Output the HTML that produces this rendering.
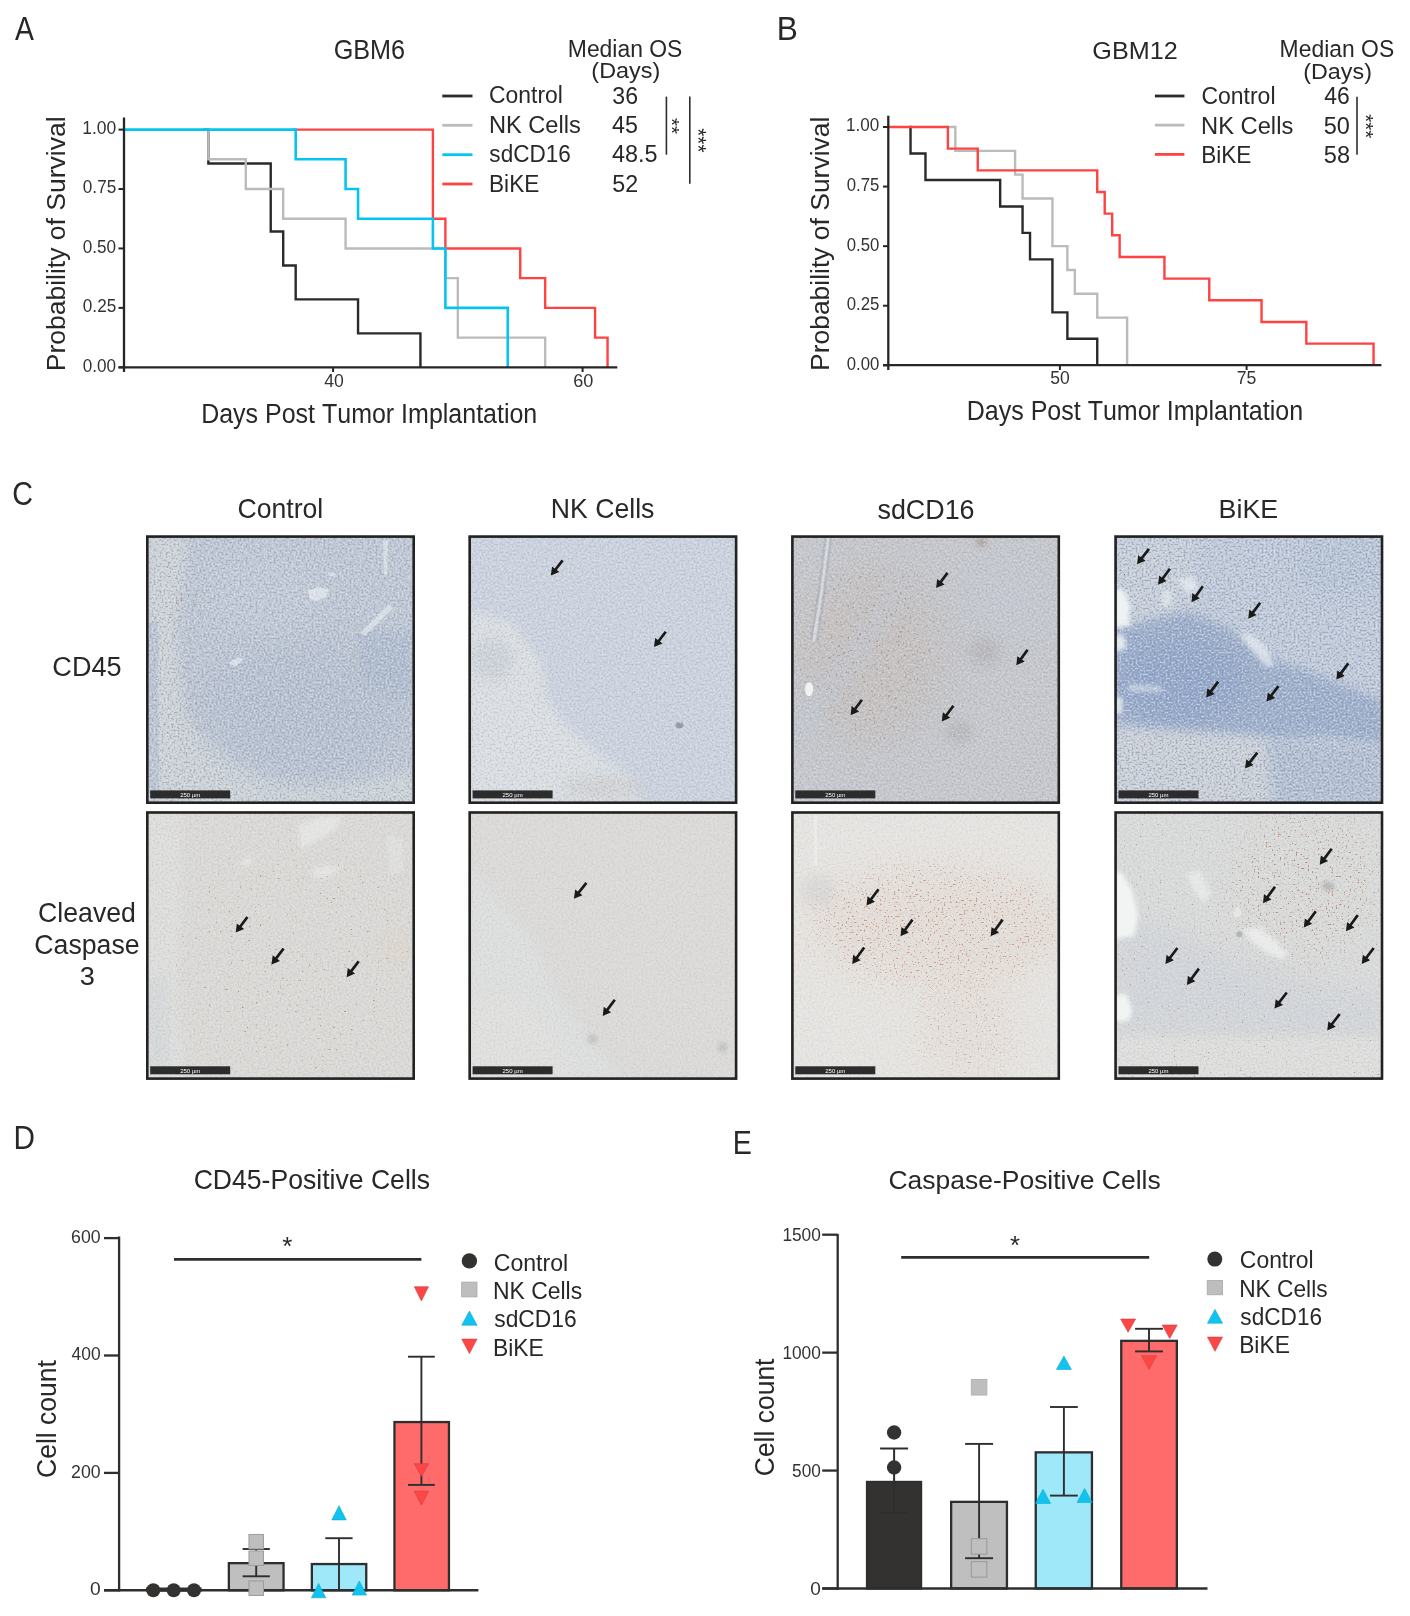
<!DOCTYPE html>
<html><head><meta charset="utf-8"><title>Figure</title>
<style>
html,body{margin:0;padding:0;background:#fff;width:1410px;height:1616px;overflow:hidden}
svg{display:block;will-change:transform}
text{font-family:"Liberation Sans",sans-serif;font-kerning:none;font-feature-settings:"kern" 0}
</style></head><body>
<svg width="1410" height="1616" viewBox="0 0 1410 1616">
<rect width="1410" height="1616" fill="#fff"/>
<defs><filter id="b2" x="-50%" y="-50%" width="200%" height="200%"><feGaussianBlur stdDeviation="2"/></filter><filter id="b4" x="-50%" y="-50%" width="200%" height="200%"><feGaussianBlur stdDeviation="4"/></filter><filter id="b5" x="-50%" y="-50%" width="200%" height="200%"><feGaussianBlur stdDeviation="5"/></filter><filter id="b6" x="-50%" y="-50%" width="200%" height="200%"><feGaussianBlur stdDeviation="6"/></filter><filter id="b8" x="-50%" y="-50%" width="200%" height="200%"><feGaussianBlur stdDeviation="8"/></filter><filter id="b10" x="-50%" y="-50%" width="200%" height="200%"><feGaussianBlur stdDeviation="10"/></filter><filter id="b12" x="-50%" y="-50%" width="200%" height="200%"><feGaussianBlur stdDeviation="12"/></filter><filter id="b14" x="-50%" y="-50%" width="200%" height="200%"><feGaussianBlur stdDeviation="14"/></filter><filter id="b15" x="-50%" y="-50%" width="200%" height="200%"><feGaussianBlur stdDeviation="15"/></filter><filter id="b20" x="-50%" y="-50%" width="200%" height="200%"><feGaussianBlur stdDeviation="20"/></filter><filter id="b25" x="-50%" y="-50%" width="200%" height="200%"><feGaussianBlur stdDeviation="25"/></filter><filter id="b30" x="-50%" y="-50%" width="200%" height="200%"><feGaussianBlur stdDeviation="30"/></filter><filter id="s000d" x="0" y="0" width="1" height="1" color-interpolation-filters="sRGB"><feTurbulence type="fractalNoise" baseFrequency="0.5" numOctaves="1" seed="3"/><feColorMatrix type="matrix" values="0 0 0 0 0.541 0 0 0 0 0.588 0 0 0 0 0.690 5.00 0 0 0 -2.60"/><feGaussianBlur stdDeviation="0.7"/></filter><filter id="s000l" x="0" y="0" width="1" height="1" color-interpolation-filters="sRGB"><feTurbulence type="fractalNoise" baseFrequency="0.5" numOctaves="1" seed="3"/><feColorMatrix type="matrix" values="0 0 0 0 0.890 0 0 0 0 0.906 0 0 0 0 0.918 -5.00 0 0 0 2.40"/><feGaussianBlur stdDeviation="0.7"/></filter><filter id="d000" x="0" y="0" width="1" height="1" color-interpolation-filters="sRGB"><feTurbulence type="fractalNoise" baseFrequency="0.42" numOctaves="1" seed="31"/><feColorMatrix type="matrix" values="0 0 0 0 0.647 0 0 0 0 0.541 0 0 0 0 0.471 14.00 0 0 0 -9.38"/><feGaussianBlur stdDeviation="0.35"/></filter><mask id="md000" maskUnits="userSpaceOnUse" x="146" y="535.3" width="269" height="268.7"><ellipse cx="176" cy="669.8" rx="30" ry="134.5" fill="#fff" filter="url(#b8)"/></mask><filter id="s010d" x="0" y="0" width="1" height="1" color-interpolation-filters="sRGB"><feTurbulence type="fractalNoise" baseFrequency="0.5" numOctaves="1" seed="5"/><feColorMatrix type="matrix" values="0 0 0 0 0.635 0 0 0 0 0.671 0 0 0 0 0.761 5.00 0 0 0 -2.60"/><feGaussianBlur stdDeviation="0.7"/></filter><filter id="s010l" x="0" y="0" width="1" height="1" color-interpolation-filters="sRGB"><feTurbulence type="fractalNoise" baseFrequency="0.5" numOctaves="1" seed="5"/><feColorMatrix type="matrix" values="0 0 0 0 0.902 0 0 0 0 0.914 0 0 0 0 0.925 -5.00 0 0 0 2.40"/><feGaussianBlur stdDeviation="0.7"/></filter><filter id="s020d" x="0" y="0" width="1" height="1" color-interpolation-filters="sRGB"><feTurbulence type="fractalNoise" baseFrequency="0.5" numOctaves="1" seed="7"/><feColorMatrix type="matrix" values="0 0 0 0 0.620 0 0 0 0 0.639 0 0 0 0 0.698 5.00 0 0 0 -2.60"/><feGaussianBlur stdDeviation="0.7"/></filter><filter id="s020l" x="0" y="0" width="1" height="1" color-interpolation-filters="sRGB"><feTurbulence type="fractalNoise" baseFrequency="0.5" numOctaves="1" seed="7"/><feColorMatrix type="matrix" values="0 0 0 0 0.875 0 0 0 0 0.882 0 0 0 0 0.894 -5.00 0 0 0 2.40"/><feGaussianBlur stdDeviation="0.7"/></filter><filter id="d020" x="0" y="0" width="1" height="1" color-interpolation-filters="sRGB"><feTurbulence type="fractalNoise" baseFrequency="0.42" numOctaves="1" seed="37"/><feColorMatrix type="matrix" values="0 0 0 0 0.659 0 0 0 0 0.541 0 0 0 0 0.471 14.00 0 0 0 -9.10"/><feGaussianBlur stdDeviation="0.35"/></filter><mask id="md020" maskUnits="userSpaceOnUse" x="791.1" y="535.3" width="269" height="268.7"><ellipse cx="871.1" cy="650.3" rx="70" ry="95" fill="#fff" filter="url(#b15)"/></mask><filter id="s030d" x="0" y="0" width="1" height="1" color-interpolation-filters="sRGB"><feTurbulence type="fractalNoise" baseFrequency="0.5" numOctaves="1" seed="11"/><feColorMatrix type="matrix" values="0 0 0 0 0.490 0 0 0 0 0.553 0 0 0 0 0.690 5.00 0 0 0 -2.60"/><feGaussianBlur stdDeviation="0.7"/></filter><filter id="s030l" x="0" y="0" width="1" height="1" color-interpolation-filters="sRGB"><feTurbulence type="fractalNoise" baseFrequency="0.5" numOctaves="1" seed="11"/><feColorMatrix type="matrix" values="0 0 0 0 0.886 0 0 0 0 0.906 0 0 0 0 0.925 -5.00 0 0 0 2.40"/><feGaussianBlur stdDeviation="0.7"/></filter><filter id="d030" x="0" y="0" width="1" height="1" color-interpolation-filters="sRGB"><feTurbulence type="fractalNoise" baseFrequency="0.42" numOctaves="1" seed="41"/><feColorMatrix type="matrix" values="0 0 0 0 0.549 0 0 0 0 0.290 0 0 0 0 0.220 14.00 0 0 0 -10.22"/><feGaussianBlur stdDeviation="0.35"/></filter><mask id="md030" maskUnits="userSpaceOnUse" x="1114.3" y="535.3" width="269" height="268.7"><ellipse cx="1154.3" cy="580.3" rx="40" ry="35" fill="#fff" filter="url(#b6)"/></mask><filter id="s100d" x="0" y="0" width="1" height="1" color-interpolation-filters="sRGB"><feTurbulence type="fractalNoise" baseFrequency="0.5" numOctaves="1" seed="13"/><feColorMatrix type="matrix" values="0 0 0 0 0.733 0 0 0 0 0.725 0 0 0 0 0.714 5.00 0 0 0 -2.60"/><feGaussianBlur stdDeviation="0.7"/></filter><filter id="s100l" x="0" y="0" width="1" height="1" color-interpolation-filters="sRGB"><feTurbulence type="fractalNoise" baseFrequency="0.5" numOctaves="1" seed="13"/><feColorMatrix type="matrix" values="0 0 0 0 0.922 0 0 0 0 0.925 0 0 0 0 0.918 -5.00 0 0 0 2.40"/><feGaussianBlur stdDeviation="0.7"/></filter><filter id="d100" x="0" y="0" width="1" height="1" color-interpolation-filters="sRGB"><feTurbulence type="fractalNoise" baseFrequency="0.45" numOctaves="1" seed="43"/><feColorMatrix type="matrix" values="0 0 0 0 0.722 0 0 0 0 0.439 0 0 0 0 0.310 14.00 0 0 0 -9.94"/><feGaussianBlur stdDeviation="0.35"/></filter><mask id="md100" maskUnits="userSpaceOnUse" x="146" y="811.2" width="269" height="268.7"><ellipse cx="295.5" cy="955.7" rx="119.5" ry="124.5" fill="#fff" filter="url(#b20)"/></mask><filter id="s110d" x="0" y="0" width="1" height="1" color-interpolation-filters="sRGB"><feTurbulence type="fractalNoise" baseFrequency="0.5" numOctaves="1" seed="17"/><feColorMatrix type="matrix" values="0 0 0 0 0.753 0 0 0 0 0.753 0 0 0 0 0.757 5.00 0 0 0 -2.60"/><feGaussianBlur stdDeviation="0.7"/></filter><filter id="s110l" x="0" y="0" width="1" height="1" color-interpolation-filters="sRGB"><feTurbulence type="fractalNoise" baseFrequency="0.5" numOctaves="1" seed="17"/><feColorMatrix type="matrix" values="0 0 0 0 0.910 0 0 0 0 0.910 0 0 0 0 0.902 -5.00 0 0 0 2.40"/><feGaussianBlur stdDeviation="0.7"/></filter><filter id="d110" x="0" y="0" width="1" height="1" color-interpolation-filters="sRGB"><feTurbulence type="fractalNoise" baseFrequency="0.42" numOctaves="1" seed="47"/><feColorMatrix type="matrix" values="0 0 0 0 0.753 0 0 0 0 0.439 0 0 0 0 0.314 14.00 0 0 0 -11.34"/><feGaussianBlur stdDeviation="0.35"/></filter><filter id="s120d" x="0" y="0" width="1" height="1" color-interpolation-filters="sRGB"><feTurbulence type="fractalNoise" baseFrequency="0.5" numOctaves="1" seed="19"/><feColorMatrix type="matrix" values="0 0 0 0 0.784 0 0 0 0 0.745 0 0 0 0 0.714 5.00 0 0 0 -2.60"/><feGaussianBlur stdDeviation="0.7"/></filter><filter id="s120l" x="0" y="0" width="1" height="1" color-interpolation-filters="sRGB"><feTurbulence type="fractalNoise" baseFrequency="0.5" numOctaves="1" seed="19"/><feColorMatrix type="matrix" values="0 0 0 0 0.933 0 0 0 0 0.929 0 0 0 0 0.922 -5.00 0 0 0 2.40"/><feGaussianBlur stdDeviation="0.7"/></filter><filter id="d120" x="0" y="0" width="1" height="1" color-interpolation-filters="sRGB"><feTurbulence type="fractalNoise" baseFrequency="0.5" numOctaves="1" seed="53"/><feColorMatrix type="matrix" values="0 0 0 0 0.753 0 0 0 0 0.478 0 0 0 0 0.345 14.00 0 0 0 -9.24"/><feGaussianBlur stdDeviation="0.35"/></filter><mask id="md120" maskUnits="userSpaceOnUse" x="791.1" y="811.2" width="269" height="268.7"><ellipse cx="935.6" cy="926.2" rx="124.5" ry="65" fill="#fff" filter="url(#b15)"/></mask><filter id="d121" x="0" y="0" width="1" height="1" color-interpolation-filters="sRGB"><feTurbulence type="fractalNoise" baseFrequency="0.5" numOctaves="1" seed="59"/><feColorMatrix type="matrix" values="0 0 0 0 0.753 0 0 0 0 0.478 0 0 0 0 0.345 14.00 0 0 0 -9.52"/><feGaussianBlur stdDeviation="0.35"/></filter><mask id="md121" maskUnits="userSpaceOnUse" x="791.1" y="811.2" width="269" height="268.7"><ellipse cx="966.1" cy="1030.7" rx="55" ry="49.5" fill="#fff" filter="url(#b15)"/></mask><filter id="s130d" x="0" y="0" width="1" height="1" color-interpolation-filters="sRGB"><feTurbulence type="fractalNoise" baseFrequency="0.5" numOctaves="1" seed="23"/><feColorMatrix type="matrix" values="0 0 0 0 0.718 0 0 0 0 0.733 0 0 0 0 0.749 5.00 0 0 0 -2.60"/><feGaussianBlur stdDeviation="0.7"/></filter><filter id="s130l" x="0" y="0" width="1" height="1" color-interpolation-filters="sRGB"><feTurbulence type="fractalNoise" baseFrequency="0.5" numOctaves="1" seed="23"/><feColorMatrix type="matrix" values="0 0 0 0 0.922 0 0 0 0 0.925 0 0 0 0 0.922 -5.00 0 0 0 2.40"/><feGaussianBlur stdDeviation="0.7"/></filter><filter id="d130" x="0" y="0" width="1" height="1" color-interpolation-filters="sRGB"><feTurbulence type="fractalNoise" baseFrequency="0.5" numOctaves="1" seed="61"/><feColorMatrix type="matrix" values="0 0 0 0 0.722 0 0 0 0 0.439 0 0 0 0 0.298 14.00 0 0 0 -9.38"/><feGaussianBlur stdDeviation="0.35"/></filter><mask id="md130" maskUnits="userSpaceOnUse" x="1114.3" y="811.2" width="269" height="268.7"><ellipse cx="1303.8" cy="886.2" rx="79.5" ry="75" fill="#fff" filter="url(#b15)"/></mask><filter id="d131" x="0" y="0" width="1" height="1" color-interpolation-filters="sRGB"><feTurbulence type="fractalNoise" baseFrequency="0.5" numOctaves="1" seed="67"/><feColorMatrix type="matrix" values="0 0 0 0 0.722 0 0 0 0 0.439 0 0 0 0 0.298 14.00 0 0 0 -10.08"/><feGaussianBlur stdDeviation="0.35"/></filter></defs>
<text transform="translate(15.04 40.4) scale(0.8593 1)" font-size="32.99" fill="#282828">A</text>
<text transform="translate(776.81 40) scale(0.9739 1)" font-size="32.41" fill="#282828">B</text>
<path d="M203.36 129.6 H208.35 V163.56 H270.73 V231.47 H283.2 V265.43 H295.68 V299.39 H358.05 V333.34 H420.43 V367.3" stroke="#2a2a2a" stroke-width="2.4" fill="none"/>
<path d="M203.36 129.6 H208.35 V159.31 H245.78 V189.03 H283.2 V218.74 H345.58 V248.45 H445.38 V278.16 H457.85 V337.59 H545.17 V367.3" stroke="#bbbbbb" stroke-width="2.4" fill="none"/>
<path d="M293.18 129.6 H432.9 V218.74 H445.38 V248.45 H520.23 V278.16 H545.17 V307.88 H595.08 V337.59 H607.55 V367.3" stroke="#ff4242" stroke-width="2.4" fill="none"/>
<path d="M124 129.6 H295.68 V159.31 H345.58 V189.03 H358.05 V218.74 H432.9 V248.45 H445.38 V307.88 H507.75 V367.3" stroke="#04c5f1" stroke-width="2.6" fill="none"/>
<line x1="124" y1="117.5" x2="124" y2="372" stroke="#262626" stroke-width="2.3" stroke-linecap="butt"/>
<line x1="118.5" y1="367.3" x2="617.3" y2="367.3" stroke="#262626" stroke-width="2.3" stroke-linecap="butt"/>
<line x1="118.5" y1="367.3" x2="124" y2="367.3" stroke="#262626" stroke-width="2" stroke-linecap="butt"/>
<line x1="118.5" y1="307.88" x2="124" y2="307.88" stroke="#262626" stroke-width="2" stroke-linecap="butt"/>
<line x1="118.5" y1="248.45" x2="124" y2="248.45" stroke="#262626" stroke-width="2" stroke-linecap="butt"/>
<line x1="118.5" y1="189.03" x2="124" y2="189.03" stroke="#262626" stroke-width="2" stroke-linecap="butt"/>
<line x1="118.5" y1="129.6" x2="124" y2="129.6" stroke="#262626" stroke-width="2" stroke-linecap="butt"/>
<line x1="333.1" y1="367.3" x2="333.1" y2="372" stroke="#262626" stroke-width="2" stroke-linecap="butt"/>
<line x1="582.6" y1="367.3" x2="582.6" y2="372" stroke="#262626" stroke-width="2" stroke-linecap="butt"/>
<text transform="translate(82.83 371.7) scale(0.9187 1)" font-size="18.64" fill="#333">0.00</text>
<text transform="translate(82.83 312.27) scale(0.9202 1)" font-size="18.64" fill="#333">0.25</text>
<text transform="translate(82.83 252.85) scale(0.9187 1)" font-size="18.64" fill="#333">0.50</text>
<text transform="translate(82.83 193.43) scale(0.9202 1)" font-size="18.64" fill="#333">0.75</text>
<text transform="translate(82.17 134) scale(0.9374 1)" font-size="18.64" fill="#333">1.00</text>
<text transform="translate(324.2 386.7) scale(0.9307 1)" font-size="18.93" fill="#333">40</text>
<text transform="translate(573.18 386.7) scale(0.9560 1)" font-size="18.93" fill="#333">60</text>
<text transform="translate(65.1 371.28) rotate(-90) scale(1.0023 1)" font-size="26.45" fill="#282828">Probability of Survival</text>
<text transform="translate(201.15 422.5) scale(0.9349 1)" font-size="26.74" fill="#282828">Days Post Tumor Implantation</text>
<text transform="translate(333.63 58.7) scale(0.9230 1)" font-size="27.33" fill="#282828">GBM6</text>
<text transform="translate(567.82 57.3) scale(0.9723 1)" font-size="23.55" fill="#282828">Median OS</text>
<text transform="translate(591.35 78.2) scale(1.0455 1)" font-size="22.38" fill="#282828">(Days)</text>
<line x1="442.3" y1="96" x2="472.5" y2="96" stroke="#2a2a2a" stroke-width="2.8" stroke-linecap="butt"/>
<line x1="442.3" y1="125.3" x2="472.5" y2="125.3" stroke="#bbbbbb" stroke-width="2.8" stroke-linecap="butt"/>
<line x1="442.3" y1="154.7" x2="472.5" y2="154.7" stroke="#04c5f1" stroke-width="2.8" stroke-linecap="butt"/>
<line x1="442.3" y1="184" x2="472.5" y2="184" stroke="#ff4242" stroke-width="2.8" stroke-linecap="butt"/>
<text transform="translate(489.04 103.4) scale(0.9722 1)" font-size="23.55" fill="#282828">Control</text>
<text transform="translate(488.96 132.9) scale(0.9972 1)" font-size="23.69" fill="#282828">NK Cells</text>
<text transform="translate(489.37 162.1) scale(0.9454 1)" font-size="23.84" fill="#282828">sdCD16</text>
<text transform="translate(489.05 191.5) scale(0.9594 1)" font-size="23.55" fill="#282828">BiKE</text>
<text transform="translate(612.32 103.7) scale(0.9811 1)" font-size="23.55" fill="#282828">36</text>
<text transform="translate(612.07 132.9) scale(0.9894 1)" font-size="23.55" fill="#282828">45</text>
<text transform="translate(612.06 162.1) scale(0.9932 1)" font-size="23.55" fill="#282828">48.5</text>
<text transform="translate(612.27 191.7) scale(0.9890 1)" font-size="23.55" fill="#282828">52</text>
<line x1="666.4" y1="96.6" x2="666.4" y2="154.7" stroke="#2e2e2e" stroke-width="1.6" stroke-linecap="butt"/>
<line x1="689.8" y1="96.6" x2="689.8" y2="183.7" stroke="#2e2e2e" stroke-width="1.6" stroke-linecap="butt"/>
<text transform="translate(664.95 117.97) rotate(90) scale(0.9929 1)" font-size="20.64" fill="#282828">**</text>
<text transform="translate(691.05 128.16) rotate(90) scale(0.9741 1)" font-size="21.51" fill="#282828">***</text>
<path d="M946.39 127 H955.35 V150.83 H1015.09 V174.66 H1022.56 V198.49 H1052.43 V246.15 H1067.37 V269.98 H1074.84 V293.81 H1097.24 V317.64 H1127.11 V365.3" stroke="#bbbbbb" stroke-width="2.4" fill="none"/>
<path d="M909.05 127 H910.54 V153.48 H925.48 V179.96 H1000.16 V206.43 H1022.56 V232.91 H1030.03 V259.39 H1052.43 V312.34 H1067.37 V338.82 H1097.24 V365.3" stroke="#2a2a2a" stroke-width="2.4" fill="none"/>
<path d="M888.3 127 H947.88 V148.66 H977.75 V170.33 H1097.24 V191.99 H1104.71 V213.65 H1112.18 V235.32 H1119.64 V256.98 H1164.45 V278.65 H1209.26 V300.31 H1261.54 V321.97 H1306.34 V343.64 H1373.56 V365.3" stroke="#ff4242" stroke-width="2.4" fill="none"/>
<line x1="888.3" y1="115.7" x2="888.3" y2="370" stroke="#262626" stroke-width="2.3" stroke-linecap="butt"/>
<line x1="883" y1="365.2" x2="1381.4" y2="365.2" stroke="#262626" stroke-width="2.3" stroke-linecap="butt"/>
<line x1="883" y1="365.3" x2="888.3" y2="365.3" stroke="#262626" stroke-width="2" stroke-linecap="butt"/>
<line x1="883" y1="305.73" x2="888.3" y2="305.73" stroke="#262626" stroke-width="2" stroke-linecap="butt"/>
<line x1="883" y1="246.15" x2="888.3" y2="246.15" stroke="#262626" stroke-width="2" stroke-linecap="butt"/>
<line x1="883" y1="186.57" x2="888.3" y2="186.57" stroke="#262626" stroke-width="2" stroke-linecap="butt"/>
<line x1="883" y1="127" x2="888.3" y2="127" stroke="#262626" stroke-width="2" stroke-linecap="butt"/>
<line x1="1059.9" y1="365.2" x2="1059.9" y2="370" stroke="#262626" stroke-width="2" stroke-linecap="butt"/>
<line x1="1246.6" y1="365.2" x2="1246.6" y2="370" stroke="#262626" stroke-width="2" stroke-linecap="butt"/>
<text transform="translate(846.75 369.7) scale(0.9195 1)" font-size="18.22" fill="#333">0.00</text>
<text transform="translate(846.74 310.12) scale(0.9210 1)" font-size="18.22" fill="#333">0.25</text>
<text transform="translate(846.75 250.55) scale(0.9195 1)" font-size="18.22" fill="#333">0.50</text>
<text transform="translate(846.74 190.97) scale(0.9210 1)" font-size="18.22" fill="#333">0.75</text>
<text transform="translate(846.1 131.4) scale(0.9382 1)" font-size="18.22" fill="#333">1.00</text>
<text transform="translate(1050.2 383.8) scale(0.9690 1)" font-size="18.08" fill="#333">50</text>
<text transform="translate(1236.69 383.8) scale(0.9785 1)" font-size="18.05" fill="#333">75</text>
<text transform="translate(828.7 370.97) rotate(-90) scale(1.0007 1)" font-size="26.45" fill="#282828">Probability of Survival</text>
<text transform="translate(966.75 419.8) scale(0.9254 1)" font-size="27.03" fill="#282828">Days Post Tumor Implantation</text>
<text transform="translate(1092.33 58.6) scale(1.0199 1)" font-size="24.71" fill="#282828">GBM12</text>
<text transform="translate(1279.62 57.4) scale(0.9853 1)" font-size="23.26" fill="#282828">Median OS</text>
<text transform="translate(1303.25 78.5) scale(1.0423 1)" font-size="22.38" fill="#282828">(Days)</text>
<line x1="1154.9" y1="96" x2="1184.4" y2="96" stroke="#2a2a2a" stroke-width="2.8" stroke-linecap="butt"/>
<line x1="1154.9" y1="125.1" x2="1184.4" y2="125.1" stroke="#bbbbbb" stroke-width="2.8" stroke-linecap="butt"/>
<line x1="1154.9" y1="154.4" x2="1184.4" y2="154.4" stroke="#ff4242" stroke-width="2.8" stroke-linecap="butt"/>
<text transform="translate(1201.43 104.4) scale(0.9703 1)" font-size="23.69" fill="#282828">Control</text>
<text transform="translate(1201.05 133.9) scale(1.0016 1)" font-size="23.69" fill="#282828">NK Cells</text>
<text transform="translate(1201.14 163.3) scale(0.9556 1)" font-size="23.69" fill="#282828">BiKE</text>
<text transform="translate(1324.27 104.4) scale(0.9810 1)" font-size="23.4" fill="#282828">46</text>
<text transform="translate(1323.76 133.9) scale(0.9927 1)" font-size="23.69" fill="#282828">50</text>
<text transform="translate(1323.75 163.3) scale(0.9969 1)" font-size="23.69" fill="#282828">58</text>
<line x1="1357" y1="96.7" x2="1357" y2="154.7" stroke="#2e2e2e" stroke-width="1.6" stroke-linecap="butt"/>
<text transform="translate(1359.39 114.17) rotate(90) scale(1.0455 1)" font-size="19.62" fill="#282828">***</text>
<text transform="translate(12.34 504.5) scale(0.8572 1)" font-size="33.52" fill="#282828">C</text>
<text transform="translate(237.55 518.4) scale(0.9837 1)" font-size="27.03" fill="#282828">Control</text>
<text transform="translate(550.81 518.4) scale(0.9964 1)" font-size="26.74" fill="#282828">NK Cells</text>
<text transform="translate(877.45 518.5) scale(1.0053 1)" font-size="26.74" fill="#282828">sdCD16</text>
<text transform="translate(1218.6 518.2) scale(1.0070 1)" font-size="26.6" fill="#282828">BiKE</text>
<text transform="translate(52.32 676.1) scale(0.9960 1)" font-size="27.22" fill="#282828">CD45</text>
<text transform="translate(38.04 922.3) scale(0.9931 1)" font-size="26.89" fill="#282828">Cleaved</text>
<text transform="translate(34.34 953.6) scale(0.9980 1)" font-size="26.74" fill="#282828">Caspase</text>
<text transform="translate(79.86 985) scale(1.0266 1)" font-size="26.5" fill="#282828">3</text>
<clipPath id="c00"><rect x="146" y="535.3" width="269" height="268.7"/></clipPath>
<g clip-path="url(#c00)">
<rect x="146" y="535.3" width="269" height="268.7" fill="#bdc6d3"/>
<path d="M146 535.3 L188 535.3 L184 585.3 L176 631.3 L180 675.3 L188 711.3 L201 732.3 L241 762.3 L281 782.3 L342 784.3 L415 772.3 L415 804.3 L146 804.3 Z" fill="#cfd4d7" opacity="0.85" filter="url(#b6)"/>
<path d="M146 621.3 L158 621.3 L159 792.3 L146 795.3 Z" fill="#b8c3d1" opacity="0.85" filter="url(#b3)"/>
<ellipse cx="302" cy="710.3" rx="105" ry="70" fill="#b3bdcd" opacity="0.7" filter="url(#b15)"/>
<path d="M358 631.3 L358 671.3 L372 691.3 L415 703.3 L415 631.3 Z" fill="#adb9cc" opacity="0.8" filter="url(#b5)"/>
<ellipse cx="266" cy="595.3" rx="60" ry="40" fill="#c3cbd7" opacity="0.5" filter="url(#b15)"/>
<rect x="146" y="535.3" width="269" height="268.7" filter="url(#s000d)" opacity="0.56"/>
<rect x="146" y="535.3" width="269" height="268.7" filter="url(#s000l)" opacity="0.56"/>
<rect x="146" y="535.3" width="269" height="268.7" filter="url(#d000)" opacity="0.8" mask="url(#md000)"/>
<path d="M308 590.3 L318 587.3 L329 589.3 L326 597.3 L316 601.3 L309 598.3 Z" fill="#eef2f4" opacity="0.6" filter="url(#b1)"/>
<path d="M360 633.3 L365 635.3 L393 608.3 L389 604.3 Z" fill="#eef2f4" opacity="0.55" filter="url(#b1)"/>
<path d="M383 540.3 L388 540.3 L387 575.3 L384 575.3 Z" fill="#eef2f4" opacity="0.5" filter="url(#b1)"/>
<path d="M228 663.3 L238 657.3 L244 659.3 L236 666.3 Z" fill="#eef2f4" opacity="0.6" filter="url(#b1)"/>
<ellipse cx="332" cy="574.3" rx="4" ry="2" fill="#eef2f4" opacity="0.5" filter="url(#b1)"/>
<rect x="146" y="535.3" width="269" height="268.7" fill="#fff" opacity="0.049"/>
<rect x="150.2" y="790.4" width="80" height="8" fill="#2c2c2c"/>
<text x="190.2" y="796.6" font-size="6" fill="#fff" text-anchor="middle">250 µm</text>
</g>
<rect x="147.3" y="536.6" width="266.4" height="266.1" fill="none" stroke="#222" stroke-width="2.6"/>
<clipPath id="c01"><rect x="468.4" y="535.3" width="269" height="268.7"/></clipPath>
<g clip-path="url(#c01)">
<rect x="468.4" y="535.3" width="269" height="268.7" fill="#c8cfdb"/>
<path d="M468.4 610.3 L510.4 621.3 L540.4 661.3 L548.4 703.3 L573.4 732.3 L601.4 756.3 L627.4 772.3 L642.4 804.3 L468.4 804.3 Z" fill="#d9dde0" opacity="0.97" filter="url(#b5)"/>
<ellipse cx="492.4" cy="659.3" rx="21" ry="20" fill="#c8ccd4" opacity="0.9" filter="url(#b6)"/>
<ellipse cx="603.4" cy="787.3" rx="42" ry="12" fill="#cbc9c9" opacity="0.7" filter="url(#b6)"/>
<ellipse cx="679.4" cy="725.3" rx="4" ry="3" fill="#7d8088" opacity="0.8" filter="url(#b1)"/>
<rect x="468.4" y="535.3" width="269" height="268.7" filter="url(#s010d)" opacity="0.48"/>
<rect x="468.4" y="535.3" width="269" height="268.7" filter="url(#s010l)" opacity="0.48"/>
<rect x="468.4" y="535.3" width="269" height="268.7" fill="#fff" opacity="0.081"/>
<path d="M561.53 559.57 L554.64 568.45 L552.07 566.46 L550.8 575.6 L559.34 572.1 L556.77 570.11 L563.67 561.23 Z" fill="#1a1a1a"/>
<path d="M664.73 630.88 L657.79 639.93 L655.21 637.95 L654 647.1 L662.52 643.55 L659.94 641.57 L666.87 632.52 Z" fill="#1a1a1a"/>
<rect x="472.6" y="790.4" width="80" height="8" fill="#2c2c2c"/>
<text x="512.6" y="796.6" font-size="6" fill="#fff" text-anchor="middle">250 µm</text>
</g>
<rect x="469.7" y="536.6" width="266.4" height="266.1" fill="none" stroke="#222" stroke-width="2.6"/>
<clipPath id="c02"><rect x="791.1" y="535.3" width="269" height="268.7"/></clipPath>
<g clip-path="url(#c02)">
<rect x="791.1" y="535.3" width="269" height="268.7" fill="#c5c7cc"/>
<ellipse cx="871.1" cy="655.3" rx="75" ry="85" fill="#c6c0bc" opacity="0.7" filter="url(#b20)"/>
<path d="M894.1 580.3 L911.1 590.3 L811.1 735.3 L791.1 735.3 L791.1 715.3 Z" fill="#c0c8d3" opacity="0.5" filter="url(#b8)"/>
<ellipse cx="1011.1" cy="595.3" rx="50" ry="45" fill="#c2c7d0" opacity="0.6" filter="url(#b15)"/>
<ellipse cx="985.1" cy="651.3" rx="16" ry="14" fill="#b2b1b4" opacity="0.7" filter="url(#b6)"/>
<ellipse cx="959.1" cy="732.3" rx="13" ry="11" fill="#b2b1b4" opacity="0.7" filter="url(#b5)"/>
<ellipse cx="981.1" cy="542.3" rx="6" ry="4" fill="#a89a95" opacity="0.8" filter="url(#b2)"/>
<rect x="791.1" y="535.3" width="269" height="268.7" filter="url(#s020d)" opacity="0.45"/>
<rect x="791.1" y="535.3" width="269" height="268.7" filter="url(#s020l)" opacity="0.45"/>
<rect x="791.1" y="535.3" width="269" height="268.7" filter="url(#d020)" opacity="0.7" mask="url(#md020)"/>
<path d="M827.1 538.3 L829.1 538.3 L822.1 595.3 L815.1 641.3 L812.1 641.3 L820.1 595.3 Z" fill="#e6e9ec" opacity="0.6" filter="url(#b1)"/>
<path d="M824.1 538.3 L826.1 538.3 L819.1 595.3 L812.1 641.3 L810.1 639.3 L817.1 595.3 Z" fill="#8f9ab3" opacity="0.35" filter="url(#b1)"/>
<path d="M830.1 538.3 L832.1 538.3 L825.1 595.3 L818.1 641.3 L816.1 643.3 L823.1 595.3 Z" fill="#8f9ab3" opacity="0.35" filter="url(#b1)"/>
<ellipse cx="809.1" cy="689.3" rx="4" ry="7" fill="#f4f5f6" opacity="0.95" filter="url(#b1)"/>
<rect x="791.1" y="535.3" width="269" height="268.7" fill="#fff" opacity="0.033"/>
<path d="M946.42 572.09 L939.82 580.89 L937.22 578.94 L936.1 588.1 L944.58 584.46 L941.98 582.51 L948.58 573.71 Z" fill="#1a1a1a"/>
<path d="M1026.51 649 L1019.92 658.04 L1017.3 656.13 L1016.3 665.3 L1024.73 661.55 L1022.1 659.63 L1028.69 650.6 Z" fill="#1a1a1a"/>
<path d="M860.81 699 L854.24 707.95 L851.62 706.03 L850.6 715.2 L859.04 711.47 L856.42 709.55 L862.99 700.6 Z" fill="#1a1a1a"/>
<path d="M952.31 704.9 L945.45 714.25 L942.83 712.33 L941.8 721.5 L950.24 717.77 L947.62 715.85 L954.49 706.5 Z" fill="#1a1a1a"/>
<rect x="795.3" y="790.4" width="80" height="8" fill="#2c2c2c"/>
<text x="835.3" y="796.6" font-size="6" fill="#fff" text-anchor="middle">250 µm</text>
</g>
<rect x="792.4" y="536.6" width="266.4" height="266.1" fill="none" stroke="#222" stroke-width="2.6"/>
<clipPath id="c03"><rect x="1114.3" y="535.3" width="269" height="268.7"/></clipPath>
<g clip-path="url(#c03)">
<rect x="1114.3" y="535.3" width="269" height="268.7" fill="#c2cbd9"/>
<path d="M1114.3 535.3 L1194.3 535.3 L1194.3 605.3 L1154.3 620.3 L1114.3 630.3 Z" fill="#cbd1d9" opacity="0.8" filter="url(#b8)"/>
<ellipse cx="1344.3" cy="565.3" rx="50" ry="30" fill="#b6c2d4" opacity="0.6" filter="url(#b10)"/>
<path d="M1116.3 627.3 L1146.3 621.3 L1187.3 611.3 L1227.3 627.3 L1247.3 643.3 L1277.3 661.3 L1308.3 671.3 L1348.3 687.3 L1383.3 701.3 L1383.3 744.3 L1328.3 736.3 L1267.3 738.3 L1227.3 734.3 L1187.3 732.3 L1146.3 728.3 L1114.3 722.3 Z" fill="#a0b1cc" opacity="1.0" filter="url(#b5)"/>
<ellipse cx="1179.3" cy="680.3" rx="65" ry="40" fill="#95a8c9" opacity="0.85" filter="url(#b10)"/>
<path d="M1114.3 730.3 L1174.3 732.3 L1267.3 738.3 L1274.3 804.3 L1114.3 804.3 Z" fill="#ced2d7" opacity="0.92" filter="url(#b6)"/>
<path d="M1267.3 741.3 L1383.3 747.3 L1383.3 804.3 L1274.3 804.3 Z" fill="#b3bfd0" opacity="0.85" filter="url(#b6)"/>
<rect x="1114.3" y="535.3" width="269" height="268.7" filter="url(#s030d)" opacity="0.56"/>
<rect x="1114.3" y="535.3" width="269" height="268.7" filter="url(#s030l)" opacity="0.56"/>
<rect x="1114.3" y="535.3" width="269" height="268.7" filter="url(#d030)" opacity="0.9" mask="url(#md030)"/>
<path d="M1114.3 588.3 L1124.3 590.3 L1130.3 605.3 L1128.3 619.3 L1132.3 625.3 L1120.3 627.3 L1114.3 627.3 Z" fill="#f0f4f5" opacity="0.95" filter="url(#b2)"/>
<path d="M1114.3 635.3 L1124.3 635.3 L1126.3 649.3 L1114.3 651.3 Z" fill="#eef2f4" opacity="0.85" filter="url(#b2)"/>
<path d="M1178.3 578.3 L1194.3 577.3 L1198.3 590.3 L1186.3 593.3 Z" fill="#e6ecf1" opacity="0.75" filter="url(#b2)"/>
<path d="M1162.3 591.3 L1172.3 590.3 L1169.3 606.3 L1162.3 605.3 Z" fill="#e6ecf1" opacity="0.7" filter="url(#b2)"/>
<path d="M1239.3 633.3 L1252.3 635.3 L1266.3 647.3 L1274.3 665.3 L1266.3 667.3 L1249.3 647.3 Z" fill="#e9eef2" opacity="0.7" filter="url(#b2)"/>
<path d="M1128.3 684.3 L1162.3 686.3 L1162.3 692.3 L1128.3 691.3 Z" fill="#dfe7ef" opacity="0.6" filter="url(#b2)"/>
<path d="M1114.3 697.3 L1122.3 697.3 L1122.3 713.3 L1114.3 713.3 Z" fill="#eef2f4" opacity="0.8" filter="url(#b2)"/>
<path d="M1147.93 547.97 L1140.83 557.15 L1138.26 555.16 L1137 564.3 L1145.53 560.79 L1142.96 558.8 L1150.07 549.63 Z" fill="#1a1a1a"/>
<path d="M1168.82 568 L1161.78 577.47 L1159.17 575.53 L1158.1 584.7 L1166.56 581.02 L1163.95 579.08 L1170.98 569.6 Z" fill="#1a1a1a"/>
<path d="M1201.7 585.52 L1195.03 594.9 L1192.38 593.01 L1191.5 602.2 L1199.88 598.34 L1197.23 596.46 L1203.9 587.08 Z" fill="#1a1a1a"/>
<path d="M1259.12 601.99 L1251.94 611.5 L1249.35 609.54 L1248.2 618.7 L1256.69 615.09 L1254.1 613.13 L1261.28 603.61 Z" fill="#1a1a1a"/>
<path d="M1347.22 662.6 L1339.98 672.37 L1337.37 670.43 L1336.3 679.6 L1344.76 675.91 L1342.15 673.98 L1349.38 664.2 Z" fill="#1a1a1a"/>
<path d="M1217.12 680.79 L1209.94 690.3 L1207.35 688.34 L1206.2 697.5 L1214.69 693.89 L1212.1 691.93 L1219.28 682.41 Z" fill="#1a1a1a"/>
<path d="M1277.33 685.28 L1270.37 694.42 L1267.79 692.45 L1266.6 701.6 L1275.11 698.02 L1272.52 696.05 L1279.47 686.92 Z" fill="#1a1a1a"/>
<path d="M1256.23 751.77 L1248.83 761.35 L1246.26 759.36 L1245 768.5 L1253.53 764.99 L1250.96 763 L1258.37 753.43 Z" fill="#1a1a1a"/>
<rect x="1118.5" y="790.4" width="80" height="8" fill="#2c2c2c"/>
<text x="1158.5" y="796.6" font-size="6" fill="#fff" text-anchor="middle">250 µm</text>
</g>
<rect x="1115.6" y="536.6" width="266.4" height="266.1" fill="none" stroke="#222" stroke-width="2.6"/>
<clipPath id="c10"><rect x="146" y="811.2" width="269" height="268.7"/></clipPath>
<g clip-path="url(#c10)">
<rect x="146" y="811.2" width="269" height="268.7" fill="#d9d8d5"/>
<path d="M146 811.2 L180 811.2 L182 911.2 L178 1011.2 L186 1080.2 L146 1080.2 Z" fill="#dddedd" opacity="0.9" filter="url(#b5)"/>
<path d="M146 977.2 L170 977.2 L170 1068.2 L146 1071.2 Z" fill="#d2d6d8" opacity="0.8" filter="url(#b4)"/>
<ellipse cx="397" cy="946.2" rx="16" ry="18" fill="#dcd4cc" opacity="0.7" filter="url(#b5)"/>
<rect x="146" y="811.2" width="269" height="268.7" filter="url(#s100d)" opacity="0.38"/>
<rect x="146" y="811.2" width="269" height="268.7" filter="url(#s100l)" opacity="0.38"/>
<rect x="146" y="811.2" width="269" height="268.7" filter="url(#d100)" opacity="0.8" mask="url(#md100)"/>
<path d="M298 825.2 L321 817.2 L342 815.2 L336 829.2 L316 841.2 L301 849.2 Z" fill="#eceeed" opacity="0.55" filter="url(#b2)"/>
<path d="M312 869.2 L331 866.2 L342 868.2 L326 877.2 L313 877.2 Z" fill="#eceeed" opacity="0.55" filter="url(#b2)"/>
<path d="M241 861.2 L253 855.2 L250 865.2 L242 867.2 Z" fill="#eceeed" opacity="0.6" filter="url(#b2)"/>
<path d="M386 835.2 L402 837.2 L403 871.2 L390 875.2 Z" fill="#e8eaea" opacity="0.35" filter="url(#b3)"/>
<rect x="146" y="811.2" width="269" height="268.7" fill="#fff" opacity="0.047"/>
<path d="M246.32 916.19 L239.42 925.39 L236.82 923.44 L235.7 932.6 L244.18 928.96 L241.58 927.01 L248.48 917.81 Z" fill="#1a1a1a"/>
<path d="M282.52 947.69 L275.25 957.3 L272.66 955.34 L271.5 964.5 L279.99 960.89 L277.4 958.93 L284.68 949.31 Z" fill="#1a1a1a"/>
<path d="M357.63 960.48 L350.37 970.02 L347.78 968.05 L346.6 977.2 L355.11 973.62 L352.52 971.65 L359.77 962.12 Z" fill="#1a1a1a"/>
<rect x="150.2" y="1066.3" width="80" height="8" fill="#2c2c2c"/>
<text x="190.2" y="1072.5" font-size="6" fill="#fff" text-anchor="middle">250 µm</text>
</g>
<rect x="147.3" y="812.5" width="266.4" height="266.1" fill="none" stroke="#222" stroke-width="2.6"/>
<clipPath id="c11"><rect x="468.4" y="811.2" width="269" height="268.7"/></clipPath>
<g clip-path="url(#c11)">
<rect x="468.4" y="811.2" width="269" height="268.7" fill="#dad9d7"/>
<path d="M468.4 865.2 L498.4 901.2 L530.4 936.2 L551.4 987.2 L581.4 1027.2 L621.4 1076.2 L621.4 1080.2 L468.4 1080.2 Z" fill="#dcdedf" opacity="0.9" filter="url(#b6)"/>
<path d="M468.4 991.2 L528.4 1001.2 L558.4 1041.2 L578.4 1080.2 L468.4 1080.2 Z" fill="#e0e0dd" opacity="0.85" filter="url(#b8)"/>
<ellipse cx="592.4" cy="1039.2" rx="5" ry="5" fill="#b8b8b8" opacity="0.8" filter="url(#b2)"/>
<ellipse cx="722.4" cy="1047.2" rx="5" ry="5" fill="#b8b8b8" opacity="0.8" filter="url(#b2)"/>
<rect x="468.4" y="811.2" width="269" height="268.7" filter="url(#s110d)" opacity="0.35"/>
<rect x="468.4" y="811.2" width="269" height="268.7" filter="url(#s110l)" opacity="0.35"/>
<rect x="468.4" y="811.2" width="269" height="268.7" filter="url(#d110)" opacity="0.6"/>
<rect x="468.4" y="811.2" width="269" height="268.7" fill="#fff" opacity="0.05"/>
<path d="M585.34 881.97 L577.78 891.58 L575.23 889.57 L573.9 898.7 L582.46 895.25 L579.91 893.25 L587.46 883.63 Z" fill="#1a1a1a"/>
<path d="M613.72 998.9 L606.38 1008.77 L603.77 1006.83 L602.7 1016 L611.16 1012.32 L608.55 1010.38 L615.88 1000.5 Z" fill="#1a1a1a"/>
<rect x="472.6" y="1066.3" width="80" height="8" fill="#2c2c2c"/>
<text x="512.6" y="1072.5" font-size="6" fill="#fff" text-anchor="middle">250 µm</text>
</g>
<rect x="469.7" y="812.5" width="266.4" height="266.1" fill="none" stroke="#222" stroke-width="2.6"/>
<clipPath id="c12"><rect x="791.1" y="811.2" width="269" height="268.7"/></clipPath>
<g clip-path="url(#c12)">
<rect x="791.1" y="811.2" width="269" height="268.7" fill="#e2e0dd"/>
<ellipse cx="941.1" cy="926.2" rx="130" ry="55" fill="#dcd3cc" opacity="0.6" filter="url(#b15)"/>
<ellipse cx="966.1" cy="1031.2" rx="45" ry="50" fill="#ddd4ce" opacity="0.5" filter="url(#b15)"/>
<ellipse cx="818.1" cy="891.2" rx="17" ry="16" fill="#cfcfcf" opacity="0.8" filter="url(#b6)"/>
<rect x="791.1" y="811.2" width="269" height="268.7" filter="url(#s120d)" opacity="0.35"/>
<rect x="791.1" y="811.2" width="269" height="268.7" filter="url(#s120l)" opacity="0.35"/>
<rect x="791.1" y="811.2" width="269" height="268.7" filter="url(#d120)" opacity="0.85" mask="url(#md120)"/>
<rect x="791.1" y="811.2" width="269" height="268.7" filter="url(#d121)" opacity="0.75" mask="url(#md121)"/>
<path d="M814.1 815.2 L817.1 815.2 L817.1 865.2 L814.1 865.2 Z" fill="#eef0f0" opacity="0.5" filter="url(#b1)"/>
<rect x="791.1" y="811.2" width="269" height="268.7" fill="#fff" opacity="0.153"/>
<path d="M877.41 888.4 L870.16 898.26 L867.54 896.33 L866.5 905.5 L874.95 901.78 L872.33 899.86 L879.59 890 Z" fill="#1a1a1a"/>
<path d="M911.41 918.81 L904.09 928.93 L901.46 927.02 L900.5 936.2 L908.91 932.41 L906.28 930.51 L913.59 920.39 Z" fill="#1a1a1a"/>
<path d="M1001.51 918.81 L994.19 928.93 L991.56 927.02 L990.6 936.2 L999.01 932.41 L996.38 930.51 L1003.69 920.39 Z" fill="#1a1a1a"/>
<path d="M863.11 946.7 L855.83 956.65 L853.21 954.73 L852.2 963.9 L860.64 960.16 L858.01 958.24 L865.29 948.3 Z" fill="#1a1a1a"/>
<rect x="795.3" y="1066.3" width="80" height="8" fill="#2c2c2c"/>
<text x="835.3" y="1072.5" font-size="6" fill="#fff" text-anchor="middle">250 µm</text>
</g>
<rect x="792.4" y="812.5" width="266.4" height="266.1" fill="none" stroke="#222" stroke-width="2.6"/>
<clipPath id="c13"><rect x="1114.3" y="811.2" width="269" height="268.7"/></clipPath>
<g clip-path="url(#c13)">
<rect x="1114.3" y="811.2" width="269" height="268.7" fill="#d6d7d7"/>
<path d="M1114.3 921.2 L1174.3 926.2 L1244.3 961.2 L1279.3 971.2 L1334.3 986.2 L1383.3 996.2 L1383.3 1037.2 L1264.3 1037.2 L1174.3 1036.2 L1114.3 1026.2 Z" fill="#cdd1d6" opacity="0.85" filter="url(#b8)"/>
<path d="M1114.3 1037.2 L1383.3 1037.2 L1383.3 1080.2 L1114.3 1080.2 Z" fill="#dcdddb" opacity="0.85" filter="url(#b5)"/>
<rect x="1114.3" y="811.2" width="269" height="268.7" filter="url(#s130d)" opacity="0.35"/>
<rect x="1114.3" y="811.2" width="269" height="268.7" filter="url(#s130l)" opacity="0.35"/>
<rect x="1114.3" y="811.2" width="269" height="268.7" filter="url(#d130)" opacity="0.85" mask="url(#md130)"/>
<rect x="1114.3" y="811.2" width="269" height="268.7" filter="url(#d131)" opacity="0.7"/>
<path d="M1114.3 871.2 L1122.3 873.2 L1132.3 891.2 L1138.3 916.2 L1134.3 936.2 L1114.3 939.2 Z" fill="#f2f5f4" opacity="0.95" filter="url(#b2)"/>
<path d="M1114.3 995.2 L1126.3 993.2 L1132.3 1011.2 L1128.3 1021.2 L1114.3 1021.2 Z" fill="#f2f5f4" opacity="0.95" filter="url(#b2)"/>
<path d="M1243.3 929.2 L1259.3 927.2 L1274.3 939.2 L1288.3 954.2 L1280.3 959.2 L1264.3 951.2 L1249.3 939.2 Z" fill="#eef1f0" opacity="0.75" filter="url(#b2)"/>
<path d="M1186.3 873.2 L1200.3 871.2 L1211.3 893.2 L1204.3 903.2 L1194.3 891.2 Z" fill="#eef1f0" opacity="0.6" filter="url(#b2)"/>
<ellipse cx="1237.3" cy="912.2" rx="4" ry="5" fill="#eef1f0" opacity="0.6" filter="url(#b1)"/>
<ellipse cx="1328.3" cy="886.2" rx="6" ry="4" fill="#a5a5a5" opacity="0.8" filter="url(#b2)"/>
<ellipse cx="1239.3" cy="934.2" rx="3" ry="3" fill="#a5a5a5" opacity="0.8" filter="url(#b1)"/>
<rect x="1114.3" y="811.2" width="269" height="268.7" fill="#fff" opacity="0.088"/>
<path d="M1330.62 847.99 L1323.44 857.5 L1320.85 855.54 L1319.7 864.7 L1328.19 861.09 L1325.6 859.13 L1332.78 849.61 Z" fill="#1a1a1a"/>
<path d="M1273.91 885.91 L1266.59 896.03 L1263.96 894.12 L1263 903.3 L1271.41 899.51 L1268.78 897.61 L1276.09 887.49 Z" fill="#1a1a1a"/>
<path d="M1314.71 910.4 L1307.43 920.35 L1304.81 918.43 L1303.8 927.6 L1312.24 923.86 L1309.61 921.94 L1316.89 912 Z" fill="#1a1a1a"/>
<path d="M1356.71 914.3 L1349.64 923.95 L1347.02 922.03 L1346 931.2 L1354.44 927.47 L1351.82 925.55 L1358.89 915.9 Z" fill="#1a1a1a"/>
<path d="M1372.62 947.19 L1365.44 956.7 L1362.85 954.74 L1361.7 963.9 L1370.19 960.29 L1367.6 958.33 L1374.78 948.81 Z" fill="#1a1a1a"/>
<path d="M1176.32 947.19 L1169.14 956.7 L1166.55 954.74 L1165.4 963.9 L1173.89 960.29 L1171.3 958.33 L1178.48 948.81 Z" fill="#1a1a1a"/>
<path d="M1197.81 967.8 L1190.53 977.75 L1187.91 975.83 L1186.9 985 L1195.34 981.26 L1192.71 979.34 L1199.99 969.4 Z" fill="#1a1a1a"/>
<path d="M1285.73 991.67 L1278.33 1001.25 L1275.76 999.26 L1274.5 1008.4 L1283.03 1004.89 L1280.46 1002.9 L1287.87 993.33 Z" fill="#1a1a1a"/>
<path d="M1338.63 1013.18 L1330.98 1023.22 L1328.39 1021.25 L1327.2 1030.4 L1335.71 1026.83 L1333.12 1024.86 L1340.77 1014.82 Z" fill="#1a1a1a"/>
<rect x="1118.5" y="1066.3" width="80" height="8" fill="#2c2c2c"/>
<text x="1158.5" y="1072.5" font-size="6" fill="#fff" text-anchor="middle">250 µm</text>
</g>
<rect x="1115.6" y="812.5" width="266.4" height="266.1" fill="none" stroke="#222" stroke-width="2.6"/>
<text transform="translate(13.56 1148.8) scale(0.8967 1)" font-size="33.14" fill="#282828">D</text>
<text transform="translate(193.65 1188.7) scale(0.9730 1)" font-size="27.33" fill="#282828">CD45-Positive Cells</text>
<rect x="146" y="1587.5" width="55.6" height="4.2" fill="#333231"/>
<rect x="228.85" y="1563.15" width="54.7" height="27.15" fill="#c0bfbf" stroke="#2e2e2e" stroke-width="2.3"/>
<rect x="311.85" y="1564.05" width="54.4" height="26.25" fill="#9ee8fa" stroke="#2e2e2e" stroke-width="2.3"/>
<rect x="394.45" y="1422.05" width="54.5" height="168.25" fill="#ff6b6b" stroke="#2e2e2e" stroke-width="2.3"/>
<line x1="119.1" y1="1236.5" x2="119.1" y2="1591.5" stroke="#2e2e2e" stroke-width="2.3" stroke-linecap="butt"/>
<line x1="104" y1="1590.3" x2="478.4" y2="1590.3" stroke="#2e2e2e" stroke-width="2.4" stroke-linecap="butt"/>
<line x1="104" y1="1590.3" x2="119.1" y2="1590.3" stroke="#2e2e2e" stroke-width="2.3" stroke-linecap="butt"/>
<line x1="104" y1="1472.9" x2="119.1" y2="1472.9" stroke="#2e2e2e" stroke-width="2.3" stroke-linecap="butt"/>
<line x1="104" y1="1355.5" x2="119.1" y2="1355.5" stroke="#2e2e2e" stroke-width="2.3" stroke-linecap="butt"/>
<line x1="104" y1="1238.1" x2="119.1" y2="1238.1" stroke="#2e2e2e" stroke-width="2.3" stroke-linecap="butt"/>
<text transform="translate(71.1 1242.9) scale(0.9514 1)" font-size="18.64" fill="#333">600</text>
<text transform="translate(71.6 1360.3) scale(0.9493 1)" font-size="18.36" fill="#333">400</text>
<text transform="translate(71.11 1477.7) scale(0.9511 1)" font-size="18.64" fill="#333">200</text>
<text transform="translate(90.05 1595.1) scale(1.0323 1)" font-size="18.64" fill="#333">0</text>
<text transform="translate(55.8 1477.95) rotate(-90) scale(0.9596 1)" font-size="27.62" fill="#282828">Cell count</text>
<line x1="256.2" y1="1549" x2="256.2" y2="1576.3" stroke="#2e2e2e" stroke-width="1.9" stroke-linecap="butt"/>
<line x1="242.6" y1="1549" x2="269.8" y2="1549" stroke="#2e2e2e" stroke-width="1.9" stroke-linecap="butt"/>
<line x1="242.6" y1="1576.3" x2="269.8" y2="1576.3" stroke="#2e2e2e" stroke-width="1.9" stroke-linecap="butt"/>
<line x1="339" y1="1538.2" x2="339" y2="1590.3" stroke="#2e2e2e" stroke-width="1.9" stroke-linecap="butt"/>
<line x1="325.3" y1="1538.2" x2="352.6" y2="1538.2" stroke="#2e2e2e" stroke-width="1.9" stroke-linecap="butt"/>
<line x1="421.4" y1="1356.7" x2="421.4" y2="1484.9" stroke="#2e2e2e" stroke-width="1.9" stroke-linecap="butt"/>
<line x1="408" y1="1356.7" x2="434.8" y2="1356.7" stroke="#2e2e2e" stroke-width="1.9" stroke-linecap="butt"/>
<line x1="408" y1="1484.9" x2="434.8" y2="1484.9" stroke="#2e2e2e" stroke-width="1.9" stroke-linecap="butt"/>
<circle cx="153.3" cy="1590.3" r="7" fill="#333231"/>
<circle cx="173.7" cy="1590.3" r="7" fill="#333231"/>
<circle cx="194" cy="1590.3" r="7" fill="#333231"/>
<rect x="248.95" y="1534.45" width="14.5" height="14.5" fill="#bebebe" stroke="#9c9c9c" stroke-width="1"/>
<rect x="248.95" y="1550.95" width="14.5" height="14.5" fill="#bebebe" stroke="#9c9c9c" stroke-width="1"/>
<rect x="248.95" y="1580.95" width="14.5" height="14.5" fill="#bebebe" stroke="#9c9c9c" stroke-width="1"/>
<path d="M318.6 1583.5 L325.8 1597.8 L311.4 1597.8 Z" fill="#10c4ef" stroke="#0aa8d0" stroke-width="0.6"/>
<path d="M359.3 1581 L366.5 1595.1 L352.1 1595.1 Z" fill="#10c4ef" stroke="#0aa8d0" stroke-width="0.6"/>
<path d="M339 1505.7 L346.2 1519.9 L331.8 1519.9 Z" fill="#10c4ef" stroke="#0aa8d0" stroke-width="0.6"/>
<path d="M414.3 1286.7 L428.5 1286.7 L421.4 1300.9 Z" fill="#fd4646" stroke="#d03c3c" stroke-width="0.6"/>
<path d="M414.25 1463.7 L428.55 1463.7 L421.4 1476.4 Z" fill="#fd4646" stroke="#d03c3c" stroke-width="0.6"/>
<path d="M414.25 1491.2 L428.55 1491.2 L421.4 1505.2 Z" fill="#fd4646" stroke="#d03c3c" stroke-width="0.6"/>
<line x1="174" y1="1259.4" x2="421.4" y2="1259.4" stroke="#2e2e2e" stroke-width="2.6" stroke-linecap="butt"/>
<text transform="translate(282.28 1255.05) scale(1.0378 1)" font-size="25.07" fill="#282828">*</text>
<circle cx="469.4" cy="1260.9" r="7.7" fill="#333231"/>
<rect x="461.7" y="1282.1" width="15.3" height="14.8" fill="#bebebe" stroke="#a8a8a8" stroke-width="0.8"/>
<path d="M469.4 1311 L477.05 1325.2 L461.75 1325.2 Z" fill="#10c4ef" stroke="#0aa8d0" stroke-width="0.6"/>
<path d="M461.75 1339.1 L477.05 1339.1 L469.4 1353.6 Z" fill="#fd4646" stroke="#d03c3c" stroke-width="0.6"/>
<text transform="translate(493.73 1270.6) scale(0.9581 1)" font-size="24.13" fill="#282828">Control</text>
<text transform="translate(493.02 1298.8) scale(0.9622 1)" font-size="23.84" fill="#282828">NK Cells</text>
<text transform="translate(494.26 1327.2) scale(0.9573 1)" font-size="23.84" fill="#282828">sdCD16</text>
<text transform="translate(493.02 1355.7) scale(0.9597 1)" font-size="23.84" fill="#282828">BiKE</text>
<text transform="translate(732.75 1154.1) scale(0.8668 1)" font-size="32.99" fill="#282828">E</text>
<text transform="translate(888.46 1189) scale(1.0123 1)" font-size="26.16" fill="#282828">Caspase-Positive Cells</text>
<rect x="867.05" y="1481.95" width="54" height="106.55" fill="#333231" stroke="#2e2e2e" stroke-width="2.3"/>
<rect x="951.15" y="1501.85" width="55.8" height="86.65" fill="#c0bfbf" stroke="#2e2e2e" stroke-width="2.3"/>
<rect x="1035.75" y="1452.35" width="56.2" height="136.15" fill="#9ee8fa" stroke="#2e2e2e" stroke-width="2.3"/>
<rect x="1121.25" y="1340.85" width="55.6" height="247.65" fill="#ff6b6b" stroke="#2e2e2e" stroke-width="2.3"/>
<line x1="837.7" y1="1234" x2="837.7" y2="1590" stroke="#2e2e2e" stroke-width="2.3" stroke-linecap="butt"/>
<line x1="822.2" y1="1588.5" x2="1207.5" y2="1588.5" stroke="#2e2e2e" stroke-width="2.5" stroke-linecap="butt"/>
<line x1="822.2" y1="1588.5" x2="837.7" y2="1588.5" stroke="#2e2e2e" stroke-width="2.3" stroke-linecap="butt"/>
<line x1="822.2" y1="1470.57" x2="837.7" y2="1470.57" stroke="#2e2e2e" stroke-width="2.3" stroke-linecap="butt"/>
<line x1="822.2" y1="1352.63" x2="837.7" y2="1352.63" stroke="#2e2e2e" stroke-width="2.3" stroke-linecap="butt"/>
<line x1="822.2" y1="1234.7" x2="837.7" y2="1234.7" stroke="#2e2e2e" stroke-width="2.3" stroke-linecap="butt"/>
<text transform="translate(782.38 1241.3) scale(0.9143 1)" font-size="18.93" fill="#333">1500</text>
<text transform="translate(782.38 1359.23) scale(0.9143 1)" font-size="18.93" fill="#333">1000</text>
<text transform="translate(792.11 1477.17) scale(0.9109 1)" font-size="18.93" fill="#333">500</text>
<text transform="translate(810.36 1595.1) scale(1.0058 1)" font-size="18.93" fill="#333">0</text>
<text transform="translate(773.7 1476.24) rotate(-90) scale(0.9588 1)" font-size="27.62" fill="#282828">Cell count</text>
<line x1="894.1" y1="1448.5" x2="894.1" y2="1512.7" stroke="#2e2e2e" stroke-width="2" stroke-linecap="butt"/>
<line x1="880.1" y1="1448.5" x2="908.1" y2="1448.5" stroke="#2e2e2e" stroke-width="2" stroke-linecap="butt"/>
<line x1="880.1" y1="1512.7" x2="908.1" y2="1512.7" stroke="#2e2e2e" stroke-width="2" stroke-linecap="butt"/>
<line x1="979.1" y1="1443.9" x2="979.1" y2="1558.2" stroke="#2e2e2e" stroke-width="1.9" stroke-linecap="butt"/>
<line x1="965.1" y1="1443.9" x2="993.1" y2="1443.9" stroke="#2e2e2e" stroke-width="1.9" stroke-linecap="butt"/>
<line x1="965.1" y1="1558.2" x2="993.1" y2="1558.2" stroke="#2e2e2e" stroke-width="1.9" stroke-linecap="butt"/>
<line x1="1063.9" y1="1407" x2="1063.9" y2="1495.6" stroke="#2e2e2e" stroke-width="1.9" stroke-linecap="butt"/>
<line x1="1050" y1="1407" x2="1077.8" y2="1407" stroke="#2e2e2e" stroke-width="1.9" stroke-linecap="butt"/>
<line x1="1050" y1="1495.6" x2="1077.8" y2="1495.6" stroke="#2e2e2e" stroke-width="1.9" stroke-linecap="butt"/>
<line x1="1149" y1="1328.8" x2="1149" y2="1351.4" stroke="#2e2e2e" stroke-width="1.9" stroke-linecap="butt"/>
<line x1="1135.1" y1="1328.8" x2="1162.9" y2="1328.8" stroke="#2e2e2e" stroke-width="1.9" stroke-linecap="butt"/>
<line x1="1135.1" y1="1351.4" x2="1162.9" y2="1351.4" stroke="#2e2e2e" stroke-width="1.9" stroke-linecap="butt"/>
<circle cx="894.1" cy="1432.5" r="7.2" fill="#333231"/>
<circle cx="894.1" cy="1467.5" r="7.2" fill="#333231"/>
<rect x="971.35" y="1379.55" width="15.5" height="15.5" fill="#bebebe" stroke="#b3b3b3" stroke-width="1"/>
<rect x="971.35" y="1538.65" width="15.5" height="15.5" fill="#c0bfbf" stroke="#999999" stroke-width="1"/>
<rect x="971.35" y="1561.65" width="15.5" height="15.5" fill="#c0bfbf" stroke="#999999" stroke-width="1"/>
<path d="M1063.9 1356.1 L1071.4 1369.4 L1056.4 1369.4 Z" fill="#10c4ef" stroke="#0aa8d0" stroke-width="0.6"/>
<path d="M1043 1489.3 L1050.5 1503.4 L1035.5 1503.4 Z" fill="#10c4ef" stroke="#0aa8d0" stroke-width="0.6"/>
<path d="M1084.6 1488.4 L1092.1 1502.4 L1077.1 1502.4 Z" fill="#10c4ef" stroke="#0aa8d0" stroke-width="0.6"/>
<path d="M1120.6 1319 L1135.6 1319 L1128.1 1332.3 Z" fill="#fd4646" stroke="#d03c3c" stroke-width="0.6"/>
<path d="M1162.2 1325 L1177.2 1325 L1169.7 1338.5 Z" fill="#fd4646" stroke="#d03c3c" stroke-width="0.6"/>
<path d="M1141.5 1355.7 L1156.5 1355.7 L1149 1369.4 Z" fill="#fd4646" stroke="#d03c3c" stroke-width="0.6"/>
<line x1="901.2" y1="1257.4" x2="1149.2" y2="1257.4" stroke="#2e2e2e" stroke-width="2.6" stroke-linecap="butt"/>
<text transform="translate(1010.09 1253.54) scale(1.0039 1)" font-size="25.64" fill="#282828">*</text>
<circle cx="1214.8" cy="1259.1" r="7.5" fill="#333231"/>
<rect x="1207.2" y="1280.4" width="15.4" height="14.4" fill="#bebebe" stroke="#a8a8a8" stroke-width="0.8"/>
<path d="M1215 1309.4 L1222.55 1323.2 L1207.45 1323.2 Z" fill="#10c4ef" stroke="#0aa8d0" stroke-width="0.6"/>
<path d="M1207.45 1337.1 L1222.55 1337.1 L1215 1351.3 Z" fill="#fd4646" stroke="#d03c3c" stroke-width="0.6"/>
<text transform="translate(1239.84 1268.3) scale(0.9676 1)" font-size="23.69" fill="#282828">Control</text>
<text transform="translate(1239.13 1296.7) scale(0.9602 1)" font-size="23.69" fill="#282828">NK Cells</text>
<text transform="translate(1240.37 1325) scale(0.9548 1)" font-size="23.69" fill="#282828">sdCD16</text>
<text transform="translate(1239.13 1353.4) scale(0.9636 1)" font-size="23.69" fill="#282828">BiKE</text>
</svg>
</body></html>
